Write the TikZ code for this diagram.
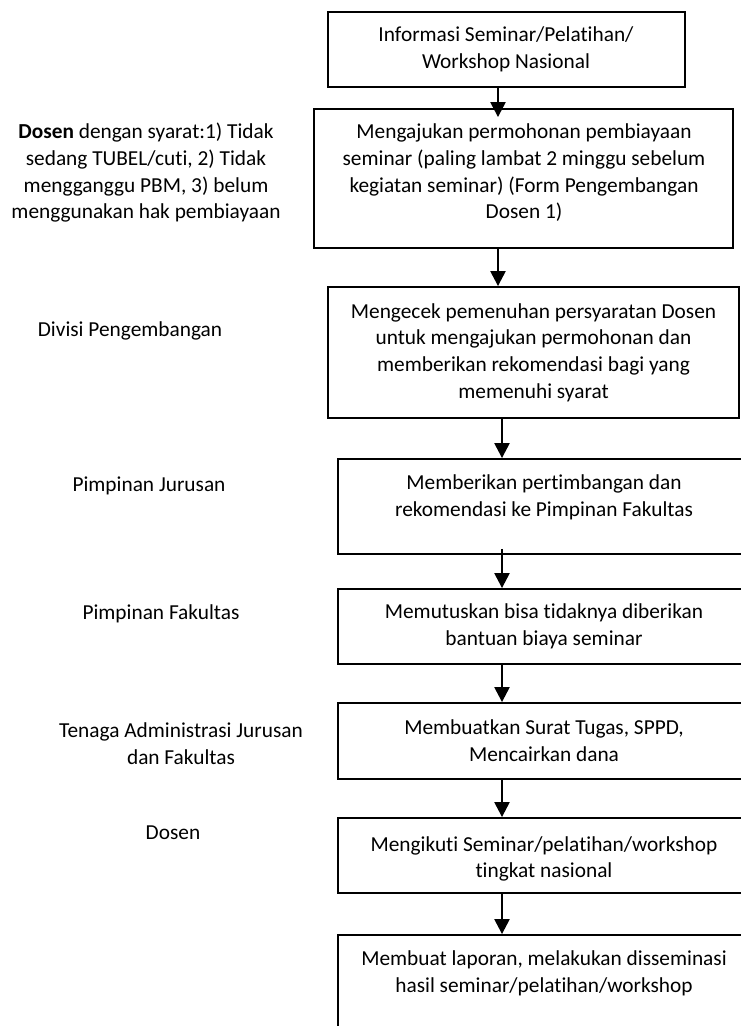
\documentclass[tikz,border=0pt]{standalone}
\usepackage{fontspec}
\setmainfont{Carlito}[Ligatures=NoCommon]
\usetikzlibrary{arrows.meta}
\begin{document}
\begin{tikzpicture}[x=0.75pt,y=-0.75pt,
  box/.style={draw, line width=1.4pt, inner sep=0pt},
  txt/.style={align=center, font=\fontsize{16pt}{20pt}\selectfont, inner sep=0pt},
  arr/.style={line width=1.8pt, -{Triangle[width=11.25pt,length=11.25pt]}}]
\useasboundingbox (0,0) rectangle (741,1026);
\clip (0,0) rectangle (741,1026);
% boxes
\node[box, minimum width=267.75pt, minimum height=56.25pt] (b1) at (506.5,49.5) {};
\node[box, minimum width=314.25pt, minimum height=104.25pt] (b2) at (523.5,178.5) {};
\node[box, minimum width=308.25pt, minimum height=98.25pt] (b3) at (533.5,352.5) {};
\node[box, minimum width=309pt, minimum height=71.25pt] (b4) at (544,506.5) {};
\node[box, minimum width=309pt, minimum height=56.25pt] (b5) at (544,626.5) {};
\node[box, minimum width=309pt, minimum height=57pt] (b6) at (544,741) {};
\node[box, minimum width=309pt, minimum height=56.25pt] (b7) at (544,855.5) {};
\node[box, minimum width=309pt, minimum height=82.5pt] (b8) at (544,990) {};
% box texts
\node[txt] (t1) at (506,49.5) {Informasi Seminar/Pelatihan/\\Workshop Nasional};
\node[txt] (t2) at (524,173) {Mengajukan permohonan pembiayaan\\seminar (paling lambat 2 minggu sebelum\\kegiatan seminar) (Form Pengembangan\\Dosen 1)};
\node[txt] (t3) at (533.5,352.5) {Mengecek pemenuhan persyaratan Dosen\\untuk mengajukan permohonan dan\\memberikan rekomendasi bagi yang\\memenuhi syarat};
\node[txt] (t4) at (544,497) {Memberikan pertimbangan dan\\rekomendasi ke Pimpinan Fakultas};
\node[txt] (t5) at (544,626.5) {Memutuskan bisa tidaknya diberikan\\bantuan biaya seminar};
\node[txt] (t6) at (544,740.5) {Membuatkan Surat Tugas, SPPD,\\Mencairkan dana};
\node[txt] (t7) at (544,859) {Mengikuti Seminar/pelatihan/workshop\\tingkat nasional};
\node[txt] (t8) at (544,973) {Membuat laporan, melakukan disseminasi\\hasil seminar/pelatihan/workshop};
% left labels
\node[txt] (l1) at (146,173) {\textbf{Dosen} dengan syarat:1) Tidak\\sedang TUBEL/cuti, 2) Tidak\\mengganggu PBM, 3) belum\\menggunakan hak pembiayaan};
\node[txt] (l2) at (130,330.5) {Divisi Pengembangan};
\node[txt] (l3) at (149,485.5) {Pimpinan Jurusan};
\node[txt] (l4) at (161,613.5) {Pimpinan Fakultas};
\node[txt] (l5) at (181,743.5) {Tenaga Administrasi Jurusan\\dan Fakultas};
\node[txt] (l6) at (173,832.5) {Dosen};
% connectors
\draw[arr] (498,0 |- b1.south) -- ([yshift=-6.75pt]498,0 |- b2.north);
\draw[arr] (498,0 |- b2.south) -- (498,0 |- b3.north);
\draw[arr] (502,0 |- b3.south) -- (502,0 |- b4.north);
\draw[arr] ([yshift=4.5pt]502,0 |- b4.south) -- (502,0 |- b5.north);
\draw[arr] (502,0 |- b5.south) -- (502,0 |- b6.north);
\draw[arr] (502,0 |- b6.south) -- (502,0 |- b7.north);
\draw[arr] (502,0 |- b7.south) -- (502,0 |- b8.north);
\end{tikzpicture}
\end{document}
